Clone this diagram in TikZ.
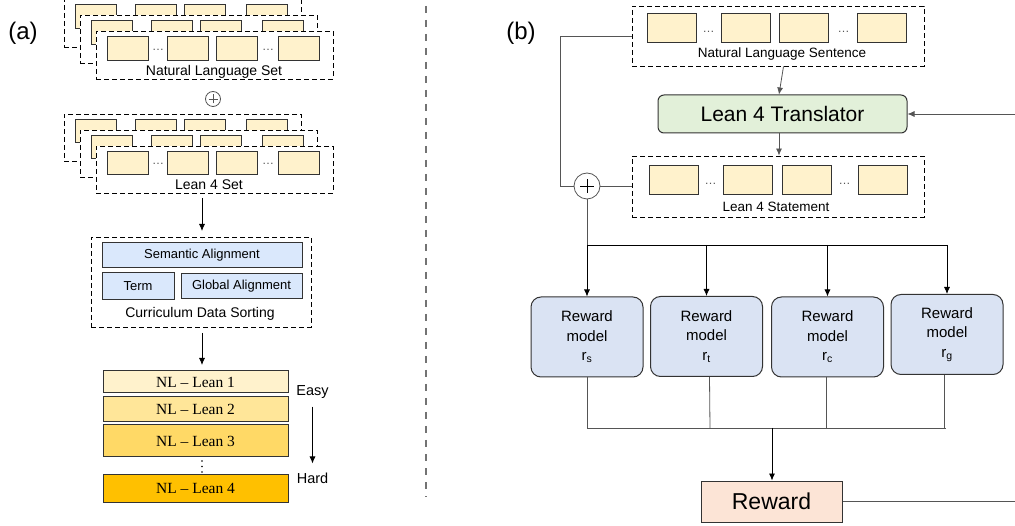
\documentclass[tikz,border=0pt]{standalone}
\usepackage{fontspec}
\setmainfont{Liberation Sans}
\newfontfamily\serifont[Ligatures=TeX]{Liberation Serif}
\usetikzlibrary{arrows.meta}
\definecolor{yfill}{HTML}{FFF2CC}
\definecolor{bfill}{HTML}{DAE8FC}
\definecolor{rfill}{HTML}{DAE3F3}
\definecolor{gfill}{HTML}{E2F0D9}
\definecolor{pfill}{HTML}{FCE4D6}
\definecolor{lone}{HTML}{FFF2CC}
\definecolor{ltwo}{HTML}{FFE699}
\definecolor{lthree}{HTML}{FFD966}
\definecolor{lfour}{HTML}{FFC000}
\definecolor{edge}{HTML}{333333}
\definecolor{conn}{HTML}{555555}
\tikzset{
  ybox/.style={draw=edge, fill=yfill, line width=1pt, inner sep=0pt},
  dframe/.style={draw=black, fill=white, line width=0.9pt, dash pattern=on 5pt off 3pt, inner sep=0pt},
  bbox/.style={draw=edge, fill=bfill, line width=1pt, inner sep=0pt, font=\fontsize{13}{15}\selectfont},
  lbox/.style={draw=edge, line width=1pt, inner sep=0pt, minimum width=185pt, font=\serifont\fontsize{15.5}{17}\selectfont},
  rmbox/.style={draw=edge, fill=rfill, line width=1pt, rounded corners=10pt, minimum width=112pt, minimum height=80pt, align=center, font=\fontsize{15}{19.5}\selectfont},
  lbl/.style={inner sep=0pt, font=\fontsize{14}{16}\selectfont},
  dotsnode/.style={inner sep=0pt, text=conn, font=\fontsize{12}{14}\selectfont},
  arr/.style={-{Latex[length=7pt,width=6pt]}, line width=0.8pt, draw=black},
  cline/.style={line width=0.8pt, draw=conn},
  pluscirc/.style={circle, draw=conn, line width=0.8pt, fill=white, inner sep=0pt},
}
\begin{document}
\begin{tikzpicture}[x=1pt,y=-1pt]
\useasboundingbox (0,0) rectangle (1015,526);
\clip (0,0) rectangle (1015,526);
\fill[white] (0,0) rectangle (1015,526);

% ---------- (a) ----------
\node[inner sep=0pt, font=\fontsize{24}{26}\selectfont] (la) at (23,33) {(a)};

% Natural Language Set stack
\foreach \k in {2,1,0}{
  \begin{scope}[shift={(-16*\k,-16*\k)}]
    \node[dframe, minimum width=237pt, minimum height=48pt] (nlset\k) at (214.5,55) {};
    \foreach \cx [count=\i] in {127.5,188,237,298.5}
      \node[ybox, minimum width=41pt, minimum height=24pt] (nlb\k\i) at (\cx,49) {};
    \node[dotsnode] (nld\k a) at (158,50) {\dots};
    \node[dotsnode] (nld\k b) at (268,50) {\dots};
  \end{scope}
}
\node[lbl] (nlsetlabel) at (214,72) {Natural Language Set};

% plus
\node[pluscirc, minimum size=15pt] (pa) at (213,99) {};
\draw[conn, line width=0.7pt] ([xshift=-4.5pt]pa.center) -- ([xshift=4.5pt]pa.center)
  ([yshift=-4.5pt]pa.center) -- ([yshift=4.5pt]pa.center);

% Lean 4 Set stack
\foreach \k in {2,1,0}{
  \begin{scope}[shift={(-16*\k,-16*\k)}]
    \node[dframe, minimum width=237pt, minimum height=47pt] (lset\k) at (214.5,169.5) {};
    \foreach \cx [count=\i] in {127.5,188,237,298.5}
      \node[ybox, minimum width=41pt, minimum height=23pt] (lb\k\i) at (\cx,163) {};
    \node[dotsnode] (ld\k a) at (158,164) {\dots};
    \node[dotsnode] (ld\k b) at (268,164) {\dots};
  \end{scope}
}
\node[lbl] (lsetlabel) at (209,185) {Lean 4 Set};

% Curriculum Data Sorting
\node[dframe, minimum width=220pt, minimum height=90pt] (cds) at (201,282) {};
\node[bbox, minimum width=200pt, minimum height=25pt] (sem) at (202,255.5) {Semantic Alignment};
\node[bbox, minimum width=72pt, minimum height=27pt] (term) at (138,286.5) {Term};
\node[bbox, minimum width=121pt, minimum height=25pt] (glob) at (241.5,286.5) {Global Alignment};
\node[lbl] (cdslabel) at (200,314) {Curriculum Data Sorting};

\coordinate (a1s) at (202,198);
\coordinate (a1e) at (202,231);
\draw[arr] (a1s) -- (a1e);

% NL - Lean boxes
\node[lbox, fill=lone, minimum height=22pt] (nl1) at (195.5,382) {NL – Lean 1};
\node[lbox, fill=ltwo, minimum height=25pt] (nl2) at (195.5,409.5) {NL – Lean 2};
\node[lbox, fill=lthree, minimum height=32pt] (nl3) at (195.5,441) {NL – Lean 3};
\node[lbox, fill=lfour, minimum height=28pt] (nl4) at (195.5,488) {NL – Lean 4};
\foreach \yy in {461,466.5,472} \fill[black] (202,\yy) circle (0.9pt);

\coordinate (a2s) at (202,333);
\coordinate (a2e) at (202,365);
\draw[arr] (a2s) -- (a2e);

\node[lbl, font=\fontsize{14.5}{16}\selectfont] (easy) at (312.5,392) {Easy};
\node[lbl, font=\fontsize{14.5}{16}\selectfont] (hard) at (312.5,478) {Hard};
\draw[arr] ([yshift=-8pt]easy.south) -- ([yshift=9pt]hard.north);

% divider
\draw[draw=black!55, line width=1.6pt, dash pattern=on 7pt off 7pt] (426,6) -- (426,497);

% ---------- (b) ----------
\node[inner sep=0pt, font=\fontsize{24}{26}\selectfont] (lb) at (521,33) {(b)};

% NL sentence
\node[dframe, minimum width=292pt, minimum height=60pt] (nls) at (778,36) {};
\foreach \cx [count=\i] in {671.5,745.5,804,881.5}
  \node[ybox, minimum width=49pt, minimum height=29pt] (nsb\i) at (\cx,28.5) {};
\node[dotsnode] (nsda) at (708.5,32) {\dots};
\node[dotsnode] (nsdb) at (843.5,32) {\dots};
\node[lbl, font=\fontsize{13.5}{15}\selectfont] (nslabel) at (782,54) {Natural Language Sentence};

% translator
\node[draw=edge, fill=gfill, line width=1pt, rounded corners=6pt, minimum width=249pt, minimum height=38pt, inner sep=0pt, font=\fontsize{21}{24}\selectfont] (tr) at (782.5,114) {Lean 4 Translator};

% Lean 4 statement
\node[dframe, minimum width=292pt, minimum height=61pt] (l4s) at (778,186.5) {};
\foreach \cx [count=\i] in {673.5,748,806.5,882.5}
  \node[ybox, minimum width=49pt, minimum height=29pt] (lsb\i) at (\cx,180.5) {};
\node[dotsnode] (lsda) at (710.5,184) {\dots};
\node[dotsnode] (lsdb) at (844.5,184) {\dots};
\node[lbl, font=\fontsize{13.5}{15}\selectfont] (l4label) at (776,207) {Lean 4 Statement};

\draw[arr, draw=conn] (nls.south -| tr.north) ++(1,0) -- ([xshift=-3.5pt]tr.north);
\draw[arr, draw=conn] ([xshift=-3.5pt]tr.south) -- ([xshift=-3.5pt]tr.south |- l4s.north);

% plus (b)
\node[pluscirc, minimum size=26pt] (pb) at (587,186) {};
\draw[black, line width=0.7pt] ([xshift=-7pt]pb.center) -- ([xshift=7pt]pb.center)
  ([yshift=-7pt]pb.center) -- ([yshift=7pt]pb.center);
\draw[cline] (nls.west) -- ++(-71,0) |- (pb.west);
\draw[cline] (pb.east) -- (pb.east -| l4s.west);

% reward models
\node[rmbox] (rm1) at (587,337) {Reward\\model\\r\textsubscript{s}};
\node[rmbox] (rm2) at (706.5,336.5) {Reward\\model\\r\textsubscript{t}};
\node[rmbox] (rm3) at (827.5,337) {Reward\\model\\r\textsubscript{c}};
\node[rmbox] (rm4) at (947,334.5) {Reward\\model\\r\textsubscript{g}};

\coordinate (split) at (587,245);
\draw[cline] (pb.south) -- (split);
\draw[line width=0.8pt] (split) -- (947,245);
\draw[arr] (split) -- (rm1.north);
\draw[arr] (split -| rm2.north) -- (rm2.north);
\draw[arr] (split -| rm3.north) -- (rm3.north);
\draw[arr] (split -| rm4.north) -- (rm4.north);

% merge
\coordinate (merge) at (772,428);
\draw[cline] (rm1.south) -- (587,428) -- (946,428);
\draw[cline] (rm2.south) ++(3,0) -- (710,428);
\draw[cline] (rm3.south) ++(-1.5,0) -- (826,428);
\draw[cline] (rm4.south) ++(-3,0) -- (944,428);

% reward
\node[draw=edge, fill=pfill, line width=1pt, minimum width=141pt, minimum height=41pt, inner sep=0pt, font=\fontsize{23}{26}\selectfont] (rw) at (771.5,501.5) {Reward};
\draw[arr] (merge) -- (merge |- rw.north);

\coordinate (fbk) at (1030,501.5);
\draw[arr, draw=conn] (rw.east) -- (fbk) |- (tr.east);
\end{tikzpicture}
\end{document}
